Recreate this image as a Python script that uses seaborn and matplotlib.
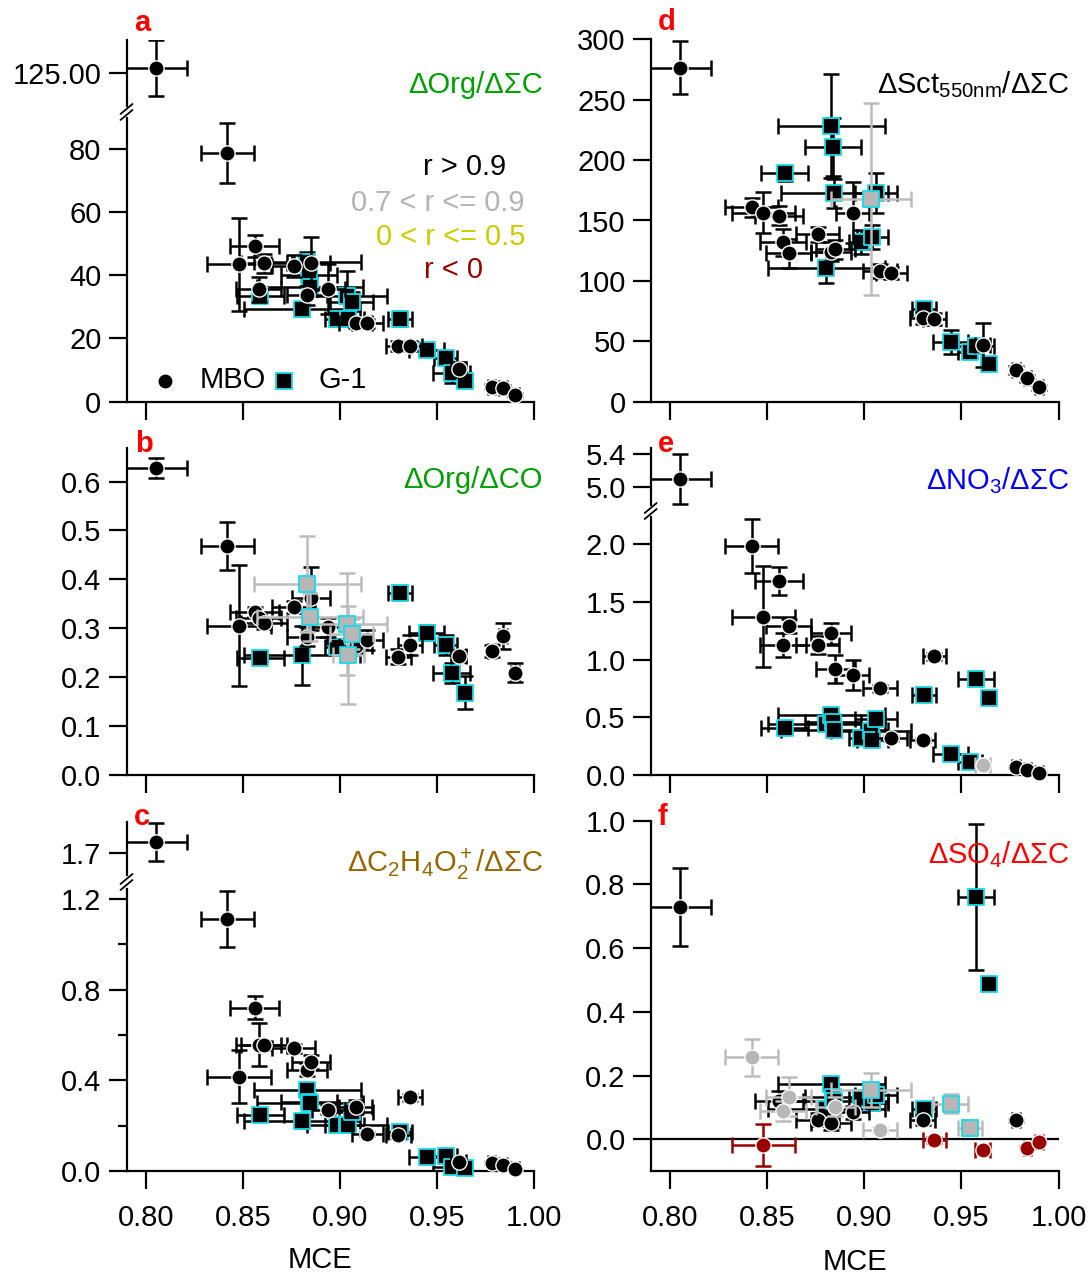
import numpy as np
import pandas as pd
import matplotlib
matplotlib.use('Agg')
import matplotlib.pyplot as plt
from matplotlib.lines import Line2D
import seaborn as sns

# ---------------- data ----------------
nan = np.nan
mce_mbo = [0.805, 0.842, 0.848, 0.856, 0.858, 0.861, 0.876, 0.883, 0.885, 0.894,
           0.908, 0.914, 0.930, 0.936, 0.961, 0.978, 0.984, 0.990]
mce_mbo_err = [0.016, 0.0136, 0.0163, 0.0125, 0.0118, 0.0118, 0.011, 0.0104, 0.010, 0.0086,
               0.0086, 0.0081, 0.0065, 0.006, 0.0038, 0.002, 0.002, 0.002]
mce_g1 = [0.859, 0.8805, 0.8831, 0.8838, 0.8845, 0.8982, 0.9034, 0.9042, 0.906, 0.9308,
          0.9446, 0.9544, 0.9575, 0.9642]
mce_g1_err = [0.012, 0.030, 0.0275, 0.0144, 0.0275, 0.006, 0.0206, 0.008, 0.011, 0.006,
              0.009, 0.006, 0.0095, 0.003]

# (a) dOrg/dSigmaC
org_sc_mbo = [126.4, 78.6, 43.4, 49.2, 35.5, 43.7, 42.9, 33.7, 43.7, 35.6,
              24.8, 24.8, 17.6, 17.6, 10.2, 4.7, 4.4, 2.1]
org_sc_mbo_err = [8.9, 9.4, 14.8, 3.6, 4.0, 3.0, 3.5, 3.0, 8.4, 8.0,
                  1.5, 1.5, 1.5, 1.5, 2.5, 0.8, 0.8, 0.5]
org_sc_mbo_r = list("kkkkkkkkkkkkkkkkkk")
org_sc_g1 = [33.4, 29.2, 44.2, 40.0, 36.3, 26.0, 33.3, 26.0, 31.6, 26.0, 16.3, 13.9, 9.0, 6.5]
org_sc_g1_err = [2, 2, 3, 3, 3, 2, 8, 2, 3, 2, 2, 2, 3, 1]
org_sc_g1_r = list("kkkkkkkkkkkkkk")

# (b) dOrg/dCO
org_co_mbo = [0.628, 0.469, 0.305, 0.334, 0.320, 0.310, 0.344, 0.283, 0.361, 0.302,
              0.264, 0.276, 0.242, 0.266, 0.243, 0.254, 0.284, 0.209]
org_co_mbo_err = [0.021, 0.049, 0.124, 0.010, 0.010, 0.012, 0.012, 0.020, 0.065, 0.020,
                  0.015, 0.020, 0.015, 0.020, 0.012, 0.012, 0.026, 0.019]
org_co_mbo_r = list("kkkkkkkkkkkkkkkkkk")
org_co_g1 = [0.239, 0.245, 0.391, nan, 0.323, 0.262, 0.309, 0.245, 0.288, 0.372,
             0.291, 0.266, 0.209, 0.168]
org_co_g1_err = [0.006, 0.060, 0.098, 0.0, 0.050, 0.010, 0.105, 0.100, 0.030, 0.013,
                 0.015, 0.020, 0.020, 0.034]
org_co_g1_r = list("kkgkgkgggkkkkk")

# (c) dC2H4O2+/dSigmaC
c2h4o2_mbo = [1.751, 1.111, 0.416, 0.721, 0.558, 0.554, 0.542, 0.447, 0.480, 0.270,
              0.282, 0.164, 0.157, 0.326, 0.041, 0.037, 0.027, 0.007]
c2h4o2_mbo_err = [0.085, 0.125, 0.118, 0.050, 0.094, 0.020, 0.020, 0.030, 0.030, 0.020,
                  0.030, 0.010, 0.010, 0.015, 0.005, 0.005, 0.005, 0.004]
c2h4o2_mbo_r = list("kkkkkkkkkkkkkkkkkk")
c2h4o2_g1 = [0.248, 0.219, 0.359, 0.305, 0.300, 0.204, 0.204, 0.205, 0.260, 0.174,
             0.063, 0.066, 0.019, 0.012]
c2h4o2_g1_err = [0.02, 0.03, 0.02, 0.02, 0.02, 0.02, 0.02, 0.02, 0.02, 0.01,
                 0.01, 0.01, 0.01, 0.005]
c2h4o2_g1_r = list("kkkkkkkkkkkkkk")

# (d) dSct550nm/dSigmaC
sct_mbo = [276.5, 160.9, 156.5, 154.0, 131.9, 122.8, 138.5, 124.2, 126.0, 156.5,
           108.2, 106.2, 69.0, 68.2, 46.9, 26.2, 19.3, 11.9]
sct_mbo_err = [21.8, 8, 17, 8, 11, 12, 6, 8, 8, 25, 6, 5, 5, 5, 18, 3, 3, 2]
sct_mbo_r = list("kkkkkkkkkkkkkkkkkk")
sct_g1 = [189.0, 111.0, 228.2, 211.0, 172.5, 132.5, 167.5, 136.6, 172.5, 76.4,
          49.7, 41.4, 46.4, 30.9]
sct_g1_err = [6, 12.7, 43, 24, 12, 10, 79.5, 10, 16.5, 5, 10, 5, 5, 3]
sct_g1_r = list("kkkkkkgkkkkkkk")

# (e) dNO3/dSigmaC
no3_mbo = [5.09, 1.983, 1.371, 1.680, 1.126, 1.293, 1.126, 1.227, 0.915, 0.866,
           0.750, 0.317, 0.303, 1.030, 0.087, 0.072, 0.043, 0.014]
no3_mbo_err = [0.305, 0.238, 0.436, 0.12, 0.10, 0.06, 0.08, 0.09, 0.12, 0.13,
               0.03, 0.02, 0.02, 0.03, 0.02, 0.01, 0.01, 0.01]
no3_mbo_r = list("kkkkkkkkkkkkkkgkkk")
no3_g1 = [0.404, 0.439, 0.519, 0.460, 0.390, 0.318, 0.384, 0.303, 0.485, 0.693,
          0.178, 0.115, 0.828, 0.664]
no3_g1_err = [0.02, 0.02, 0.02, 0.02, 0.02, 0.02, 0.02, 0.02, 0.03, 0.02,
              0.02, 0.02, 0.03, 0.02]
no3_g1_r = list("kkkkkkkkkkkkkk")

# (f) dSO4/dSigmaC
so4_mbo = [0.729, 0.258, -0.018, 0.121, 0.089, 0.134, 0.061, 0.050, 0.102, 0.085,
           0.029, nan, 0.061, -0.002, -0.034, 0.060, -0.026, -0.008]
so4_mbo_err = [0.123, 0.058, 0.067, 0.03, 0.03, 0.06, 0.02, 0.02, 0.03, 0.02,
               0.01, 0.0, 0.015, 0.01, 0.01, 0.005, 0.005, 0.005]
so4_mbo_r = list("kgrkggkkgkgkkrrkrr")
so4_g1 = [nan, 0.095, 0.174, 0.134, 0.120, 0.129, 0.155, 0.113, 0.140, 0.094,
          0.111, 0.0345, 0.760, 0.488]
so4_g1_err = [0.0, 0.02, 0.02, 0.02, 0.02, 0.02, 0.053, 0.02, 0.02, 0.02,
              0.03, 0.01, 0.229, 0.01]
so4_g1_r = list("kkkkkkgkkkggkk")

# tick values / labels
mce_ticks = [0.80, 0.85, 0.90, 0.95, 1.00]
mce_ticklabels = ["0.80", "0.85", "0.90", "0.95", "1.00"]

# ---------------- style ----------------
sns.set_theme(style="ticks", rc={"axes.edgecolor": "black", "xtick.color": "black",
                                 "ytick.color": "black", "text.color": "black",
                                 "axes.labelcolor": "black"})
plt.rcParams['font.family'] = ['Liberation Sans', 'DejaVu Sans']
plt.rcParams['mathtext.fontset'] = 'custom'
plt.rcParams['mathtext.rm'] = 'Liberation Sans'
plt.rcParams['mathtext.it'] = 'Liberation Sans:italic'
plt.rcParams['mathtext.bf'] = 'Liberation Sans:bold'
plt.rcParams['mathtext.default'] = 'regular'

FS = 21
FACE = {'k': 'black', 'g': '#b7b7b7', 'y': '#cccc00', 'r': '#990000'}
ERRC = {'k': 'black', 'g': '#bcbcbc', 'y': '#cccc00', 'r': '#990000'}
CYAN = '#14dcec'

W, H = 1088, 1274
fig = plt.figure(figsize=(W / 100, H / 100), dpi=100)


def axes_px(x0, x1, y0, y1):
    return fig.add_axes([x0 / W, 1 - y1 / H, (x1 - x0) / W, (y1 - y0) / H])


LX0, LX1 = 126.5, 534.3
RX0, RX1 = 650.7, 1058.5

ax_a_up = axes_px(LX0, LX1, 40, 106)
ax_a = axes_px(LX0, LX1, 118, 401.7)
ax_b = axes_px(LX0, LX1, 448.3, 775)
ax_c_up = axes_px(LX0, LX1, 822, 875)
ax_c = axes_px(LX0, LX1, 889, 1171)
ax_d = axes_px(RX0, RX1, 39.3, 401.7)
ax_e_up = axes_px(RX0, RX1, 448.3, 505)
ax_e = axes_px(RX0, RX1, 517, 775)
ax_f = axes_px(RX0, RX1, 820.7, 1171)

ylims = {
    ax_a_up: (114.5, 135.3), ax_a: (0, 89.7),
    ax_b: (0, 0.668),
    ax_c_up: (1.604, 1.839), ax_c: (0, 1.244),
    ax_d: (0, 300),
    ax_e_up: (4.776, 5.47), ax_e: (0, 2.234),
    ax_f: (-0.0995, 1.0),
}
for ax, yl in ylims.items():
    ax.set_xlim(0.79, 1.0)
    ax.set_ylim(*yl)


def draw(axes, mbo_y, mbo_e, mbo_r, g1_y, g1_e, g1_r):
    series = [
        (mce_g1, mce_g1_err, g1_y, g1_e, g1_r, 's', CYAN, 128, 1.3),
        (mce_mbo, mce_mbo_err, mbo_y, mbo_e, mbo_r, 'o', 'white', 121, 1.0),
    ]
    for ax in axes:
        ylo, yhi = ylims[ax]
        layer = 0
        for cat in ['k', 'g', 'y', 'r']:
            for mce, mce_e, y, ye, r, mk, edge, s, lw in series:
                df = pd.DataFrame({'x': mce, 'xe': mce_e, 'y': y, 'ye': ye, 'c': r})
                sub = df[(df.c == cat) & df.y.between(ylo, yhi)]
                if sub.empty:
                    continue
                ax.errorbar(sub.x, sub.y, xerr=sub.xe, yerr=sub.ye, fmt='none',
                            ecolor=ERRC[cat], elinewidth=1.8, capsize=5.5, capthick=1.8,
                            zorder=2 + 2 * layer)
                sns.scatterplot(data=sub, x='x', y='y', ax=ax, marker=mk,
                                color=FACE[cat], edgecolor=edge, linewidth=lw, s=s,
                                zorder=3 + 2 * layer, legend=False, clip_on=False)
                layer += 1


draw([ax_a_up, ax_a], org_sc_mbo, org_sc_mbo_err, org_sc_mbo_r, org_sc_g1, org_sc_g1_err, org_sc_g1_r)
draw([ax_b], org_co_mbo, org_co_mbo_err, org_co_mbo_r, org_co_g1, org_co_g1_err, org_co_g1_r)
draw([ax_c_up, ax_c], c2h4o2_mbo, c2h4o2_mbo_err, c2h4o2_mbo_r, c2h4o2_g1, c2h4o2_g1_err, c2h4o2_g1_r)
draw([ax_d], sct_mbo, sct_mbo_err, sct_mbo_r, sct_g1, sct_g1_err, sct_g1_r)
draw([ax_e_up, ax_e], no3_mbo, no3_mbo_err, no3_mbo_r, no3_g1, no3_g1_err, no3_g1_r)
draw([ax_f], so4_mbo, so4_mbo_err, so4_mbo_r, so4_g1, so4_g1_err, so4_g1_r)

ax_f.axhline(0, color='black', lw=1.6, zorder=1)


def style(ax, yticks, yticklabels, kind='plain', minor=None):
    ax.set_xlim(0.79, 1.0)
    ax.set_ylim(*ylims[ax])
    ax.set_xlabel('')
    ax.set_ylabel('')
    ax.patch.set_alpha(0)
    for s in ['top', 'right']:
        ax.spines[s].set_visible(False)
    for s in ['left', 'bottom']:
        ax.spines[s].set_linewidth(1.6)
        ax.spines[s].set_color('black')
    ax.tick_params(axis='both', which='major', direction='out', length=13, width=1.6,
                   labelsize=FS, colors='black')
    ax.tick_params(axis='y', pad=5)
    ax.tick_params(axis='x', pad=11)
    ax.set_yticks(yticks)
    ax.set_yticklabels(yticklabels)
    if minor is not None:
        ax.set_yticks(minor, minor=True)
        ax.tick_params(axis='y', which='minor', direction='out', length=6.5, width=1.6)
    ax.set_xticks(mce_ticks)
    if kind == 'upper':
        ax.spines['bottom'].set_visible(False)
        ax.tick_params(axis='x', bottom=False, labelbottom=False)
    elif kind == 'labels':
        ax.set_xticklabels(mce_ticklabels)
    else:
        ax.tick_params(axis='x', labelbottom=False)


style(ax_a_up, [125], ["125.00"], 'upper')
style(ax_a, [0, 20, 40, 60, 80], ["0", "20", "40", "60", "80"])
style(ax_b, [0, 0.1, 0.2, 0.3, 0.4, 0.5, 0.6], ["0.0", "0.1", "0.2", "0.3", "0.4", "0.5", "0.6"])
style(ax_c_up, [1.7], ["1.7"], 'upper')
style(ax_c, [0, 0.4, 0.8, 1.2], ["0.0", "0.4", "0.8", "1.2"], 'labels', minor=[0.2, 0.6, 1.0])
style(ax_d, [0, 50, 100, 150, 200, 250, 300], ["0", "50", "100", "150", "200", "250", "300"])
style(ax_e_up, [5.0, 5.4], ["5.0", "5.4"], 'upper')
style(ax_e, [0, 0.5, 1.0, 1.5, 2.0], ["0.0", "0.5", "1.0", "1.5", "2.0"])
style(ax_f, [0, 0.2, 0.4, 0.6, 0.8, 1.0], ["0.0", "0.2", "0.4", "0.6", "0.8", "1.0"], 'labels')


# axis-break marks
def brk(xc, yc):
    for dy in (-3, 3):
        fig.add_artist(Line2D([(xc - 6) / W, (xc + 6) / W],
                              [1 - (yc + dy + 5) / H, 1 - (yc + dy - 5) / H],
                              color='black', lw=1.3))


brk(LX0, 112)
brk(LX0, 882)
brk(RX0, 511)


def ftext(px, py, s, **kw):
    fig.text(px / W, 1 - py / H, s, **kw)


# panel letters
for px, py, s in [(142.4, 30.7, 'a'), (144, 452.3, 'b'), (142.4, 825, 'c'),
                  (666.5, 30, 'd'), (665.5, 451.7, 'e'), (662.3, 825, 'f')]:
    ftext(px, py, s, color='#ff0000', fontsize=FS, fontweight='bold', ha='center', va='baseline')

# panel titles
ftext(543, 93.3, 'ΔOrg/ΔΣC', color='#00a000', fontsize=FS, ha='right', va='baseline')
ftext(543, 488.3, 'ΔOrg/ΔCO', color='#00a000', fontsize=FS, ha='right', va='baseline')
ftext(543, 871.7, r'ΔC$_2$H$_4$O$_2^+$/ΔΣC', color='#996600', fontsize=FS, ha='right', va='baseline')
ftext(1069, 92.7, r'ΔSct$_{550nm}$/ΔΣC', color='black', fontsize=FS, ha='right', va='baseline')
ftext(1069, 489, r'ΔNO$_3$/ΔΣC', color='#0000ff', fontsize=FS, ha='right', va='baseline')
ftext(1069, 863.3, r'ΔSO$_4$/ΔΣC', color='#ff0000', fontsize=FS, ha='right', va='baseline')

# correlation legend
ftext(465, 175, 'r > 0.9', color='black', fontsize=FS, ha='center', va='baseline')
ftext(437.5, 210.7, '0.7 < r <= 0.9', color='#b4b4b4', fontsize=FS, ha='center', va='baseline')
ftext(451, 245, '0 < r <= 0.5', color='#cccc00', fontsize=FS, ha='center', va='baseline')
ftext(454, 278.3, 'r < 0', color='#990000', fontsize=FS, ha='center', va='baseline')

# site legend
fig.add_artist(Line2D([165.2 / W], [1 - 381 / H], marker='o', ms=11, mfc='black',
                      mec='white', mew=1.0, ls='none'))
fig.add_artist(Line2D([284 / W], [1 - 381 / H], marker='s', ms=11.3, mfc='black',
                      mec=CYAN, mew=1.3, ls='none'))
ftext(200, 388.3, 'MBO', fontsize=FS, ha='left', va='baseline')
ftext(318, 388.3, 'G-1', fontsize=FS, ha='left', va='baseline')

# x labels
ftext(320, 1268.3, 'MCE', fontsize=FS, ha='center', va='baseline')
ftext(854.6, 1270, 'MCE', fontsize=FS, ha='center', va='baseline')

fig.savefig('out.png', dpi=100)
